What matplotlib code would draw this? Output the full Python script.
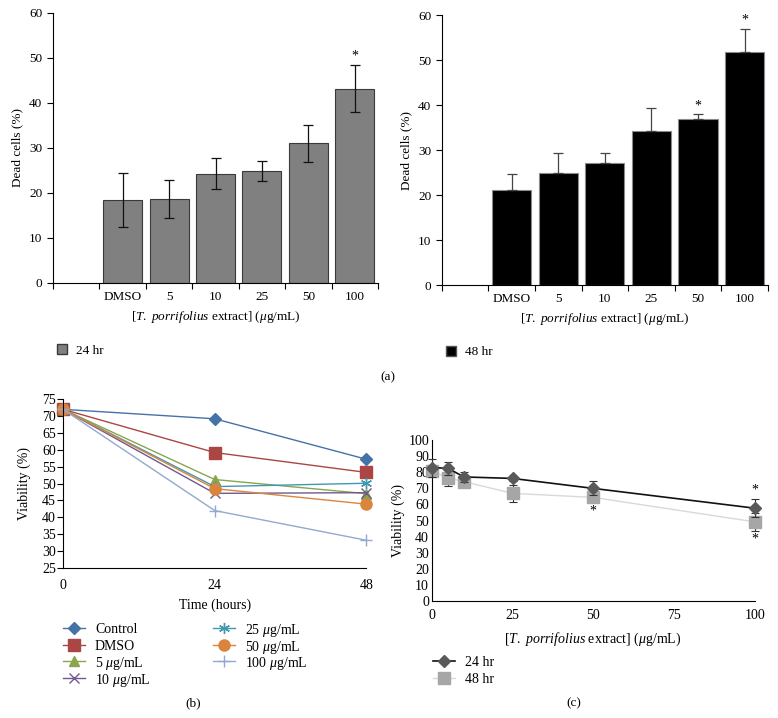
import numpy as np
import matplotlib
matplotlib.use("Agg")
import matplotlib.pyplot as plt
from matplotlib.lines import Line2D
from matplotlib.patches import Patch

plt.rcParams['font.family'] = ['Liberation Serif', 'DejaVu Serif']
plt.rcParams['mathtext.fontset'] = 'custom'
plt.rcParams['mathtext.rm'] = 'Liberation Serif'
plt.rcParams['mathtext.it'] = 'Liberation Serif:italic'

# (a) dead cells
doses_a = ["DMSO", "5", "10", "25", "50", "100"]
dead_24 = [18.5, 18.7, 24.3, 24.9, 31.0, 43.2]
err_24 = [6.0, 4.2, 3.4, 2.2, 4.2, 5.3]
dead_48 = [21.1, 24.9, 27.2, 34.2, 36.8, 51.9]
err_48 = [3.5, 4.4, 2.1, 5.1, 1.2, 5.1]
star_24 = [False, False, False, False, False, True]
star_48 = [False, False, False, False, True, True]

# (b) viability vs time
hours = [0, 24, 48]
time_series = {
    "Control": [72, 69.2, 57.2],
    "DMSO": [72, 59.2, 53.3],
    "5 $\\mu$g/mL": [72, 51.2, 47.0],
    "10 $\\mu$g/mL": [72, 47.1, 47.3],
    "25 $\\mu$g/mL": [72, 49.1, 50.1],
    "50 $\\mu$g/mL": [72, 48.5, 43.9],
    "100 $\\mu$g/mL": [72, 42.0, 33.2],
}
b_colors = ["#4572A7", "#AA4643", "#89A54E", "#71588F", "#4198AF", "#DB843D", "#93A9CF"]
b_markers = ["D", "s", "^", "x", (6, 2, 0), "o", "+"]
b_sizes = [6, 8, 7, 7, 8, 8, 9]

# (c) viability vs dose
conc = [0, 5, 10, 25, 50, 100]
via_24 = [82.9, 82.5, 77.1, 76.2, 70.0, 57.7]
verr_24 = [5.6, 4.2, 3.0, 1.8, 4.4, 5.6]
via_48 = [80.8, 76.5, 74.2, 66.9, 64.4, 49.2]
verr_48 = [2.5, 4.8, 2.0, 5.2, 2.0, 5.4]

xlab = "[$\\it{T.\\ porrifolius}$ extract] ($\\mu$g/mL)"

fig = plt.figure(figsize=(7.78, 7.18), dpi=100)
W, H = 778.0, 718.0


def legend_row(x_px, y_px, label, fs=10, **style):
    # one legend entry placed by pixel position (line, marker in middle, text)
    xs = [x_px / W, (x_px + 11) / W, (x_px + 22) / W]
    ys = [1 - y_px / H] * 3
    fig.add_artist(Line2D(xs, ys, transform=fig.transFigure, markevery=[1], **style))
    fig.text((x_px + 32) / W, 1 - y_px / H, label, fontsize=fs, va="center_baseline")


def bar_panel(rect, vals, errs, stars, color, edge, ecol, upper_only):
    ax = fig.add_axes(rect)
    pos = np.arange(1, len(vals) + 1)
    ax.bar(pos, vals, width=0.84, color=color, edgecolor=edge, linewidth=0.8, zorder=2)
    if upper_only:
        yerr = [np.zeros(len(errs)), errs]
    else:
        yerr = errs
    ax.errorbar(pos, vals, yerr=yerr, fmt="none", ecolor=ecol, elinewidth=0.9,
                capsize=3.5, capthick=0.9, zorder=3)
    for p, v, e, s in zip(pos, vals, errs, stars):
        if s:
            ax.text(p, v + e + 0.4, "*", ha="center", va="bottom", fontsize=10)
    ax.set_xlim(-0.5, len(vals) + 0.5)
    ax.set_ylim(0, 60)
    ax.set_yticks(range(0, 61, 10))
    ax.set_xticks(np.arange(-0.5, len(vals) + 1, 1))
    ax.set_xticklabels([])
    ax.set_xticks(pos, minor=True)
    ax.set_xticklabels(doses_a, minor=True)
    ax.tick_params(axis="x", which="minor", length=0, pad=6, labelsize=9.5)
    ax.tick_params(axis="x", which="major", length=4, width=0.8)
    ax.tick_params(axis="y", length=4, width=0.8, labelsize=9.5)
    for sp in ["top", "right"]:
        ax.spines[sp].set_visible(False)
    ax.set_ylabel("Dead cells (%)", fontsize=9.5)
    ax.set_xlabel(xlab, fontsize=9.5, labelpad=4)
    return ax


ax1 = bar_panel([0.068, 0.606, 0.418, 0.376], dead_24, err_24, star_24,
                "#808080", "#3a3a3a", "#111111", False)
ax2 = bar_panel([0.568, 0.603, 0.419, 0.376], dead_48, err_48, star_48,
                "#000000", "#8a8a8a", "#444444", True)

fig.legend(handles=[Patch(facecolor="#808080", edgecolor="#3a3a3a", label="24 hr")],
           loc="center left", bbox_to_anchor=(0.066, 0.512), frameon=False,
           fontsize=9.5, handlelength=0.8, handleheight=0.8, handletextpad=0.7,
           borderaxespad=0)
fig.legend(handles=[Patch(facecolor="#000000", edgecolor="#555555", label="48 hr")],
           loc="center left", bbox_to_anchor=(0.566, 0.510), frameon=False,
           fontsize=9.5, handlelength=0.8, handleheight=0.8, handletextpad=0.7,
           borderaxespad=0)
fig.text(0.499, 0.475, "(a)", ha="center", va="center", fontsize=9.5)

# (b)
axb = fig.add_axes([0.081, 0.209, 0.390, 0.235])
for (name, vals), c, m, s in zip(time_series.items(), b_colors, b_markers, b_sizes):
    axb.plot(hours, vals, color=c, marker=m, markersize=s, linewidth=1.0,
             markeredgecolor=c, markeredgewidth=1.0, label=name, clip_on=False)
axb.set_xlim(0, 48)
axb.set_ylim(25, 75)
axb.set_yticks(range(25, 76, 5))
axb.set_xticks(hours)
axb.tick_params(axis="x", length=0, pad=8, labelsize=10)
axb.tick_params(axis="y", length=4, width=0.8, labelsize=10, pad=1)
for sp in ["top", "right"]:
    axb.spines[sp].set_visible(False)
axb.set_ylabel("Viability (%)", fontsize=10, labelpad=8)
axb.set_xlabel("Time (hours)", fontsize=10, labelpad=5)
for i, (name, c, m, s) in enumerate(zip(time_series, b_colors, b_markers, b_sizes)):
    col, row = divmod(i, 4)
    legend_row(63 + col * 150, 628 + row * 16.7, name, color=c, marker=m,
               markersize=s, linewidth=1.0, markeredgecolor=c, markeredgewidth=1.0)
fig.text(0.248, 0.021, "(b)", ha="center", va="center", fontsize=9.5)

# (c)
axc = fig.add_axes([0.555, 0.163, 0.415, 0.224])
axc.errorbar(conc, via_48, yerr=verr_48, color="#d9d9d9", linewidth=1.0,
             marker="s", markersize=8, markerfacecolor="#a6a6a6", markeredgecolor="#a6a6a6",
             ecolor="#333333", elinewidth=0.8, capsize=3, capthick=0.8,
             clip_on=False, zorder=2)
axc.errorbar(conc, via_24, yerr=verr_24, color="#111111", linewidth=1.2,
             marker="D", markersize=6, markerfacecolor="#595959", markeredgecolor="#595959",
             ecolor="#333333", elinewidth=0.8, capsize=3, capthick=0.8,
             clip_on=False, zorder=3)
axc.text(50, via_48[4] - verr_48[4] - 2.5, "*", ha="center", va="top", fontsize=10)
axc.text(100, via_24[5] + verr_24[5] + 1.5, "*", ha="center", va="bottom", fontsize=10)
axc.text(100, via_48[5] - verr_48[5] - 1.5, "*", ha="center", va="top", fontsize=10)
axc.set_xlim(0, 100)
axc.set_ylim(0, 100)
axc.set_yticks(range(0, 101, 10))
axc.set_xticks([0, 25, 50, 75, 100])
axc.tick_params(axis="x", length=0, pad=6, labelsize=10)
axc.tick_params(axis="y", length=0, labelsize=10, pad=2)
for sp in ["top", "right"]:
    axc.spines[sp].set_visible(False)
axc.set_ylabel("Viability (%)", fontsize=10, labelpad=2)
axc.set_xlabel(xlab, fontsize=10, labelpad=6)
legend_row(433, 661, "24 hr", color="#111111", linewidth=1.2, marker="D", markersize=6,
           markerfacecolor="#595959", markeredgecolor="#595959")
legend_row(433, 678, "48 hr", color="#d9d9d9", linewidth=1.0, marker="s", markersize=8,
           markerfacecolor="#a6a6a6", markeredgecolor="#a6a6a6")
fig.text(0.737, 0.021, "(c)", ha="center", va="center", fontsize=9.5)

fig.savefig("out.png", dpi=100)
